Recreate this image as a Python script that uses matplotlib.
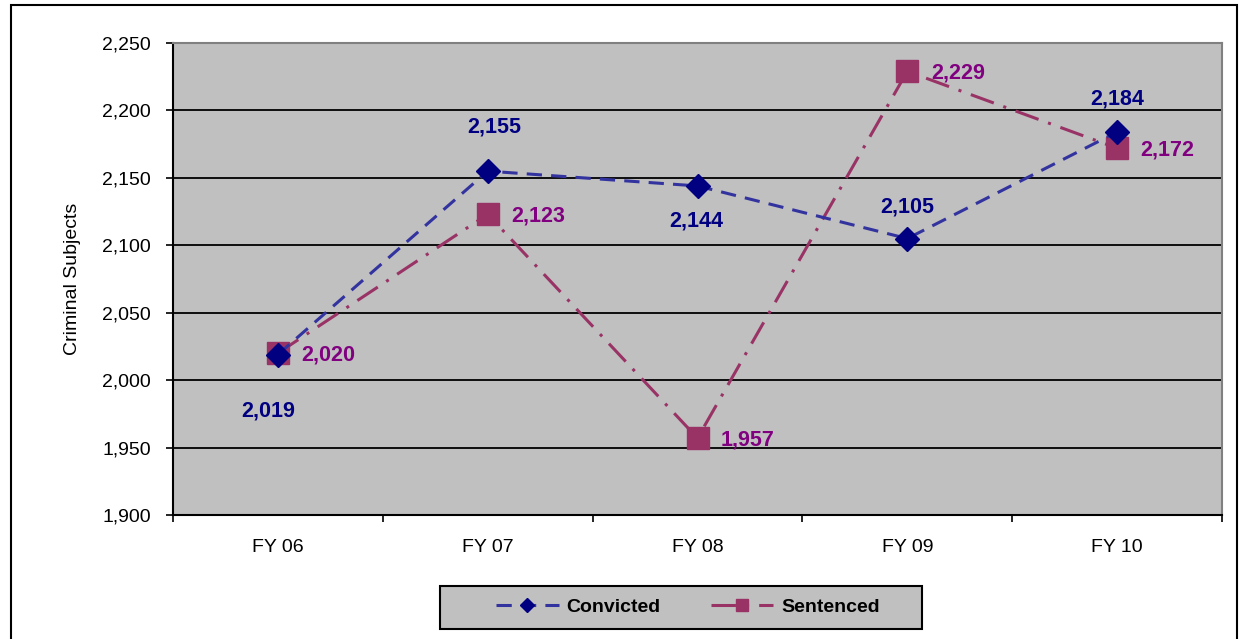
import matplotlib
matplotlib.use("Agg")
import matplotlib.pyplot as plt
from matplotlib.patches import Rectangle
from matplotlib.ticker import FuncFormatter, FixedLocator

plt.rcParams['font.family'] = ['Liberation Sans', 'DejaVu Sans']

years = ["FY 06", "FY 07", "FY 08", "FY 09", "FY 10"]
convicted = [2019, 2155, 2144, 2105, 2184]
sentenced = [2020, 2123, 1957, 2229, 2172]

# label offsets (points) for the Convicted values
conv_offsets = [(-7, -41), (5, 32), (-1, -25), (0, 23), (0, 24)]

W, H = 1246, 639
fig = plt.figure(figsize=(W / 100, H / 100), dpi=100)
fig.patch.set_facecolor("white")

# outer chart border
fig.add_artist(Rectangle((11 / W, -0.01), 1226 / W, 1 - 5 / H + 0.01,
                         transform=fig.transFigure, fill=False,
                         edgecolor="black", linewidth=1.5))

ax = fig.add_axes([173 / W, 1 - 515 / H, 1049 / W, 472 / H])
ax.set_facecolor("#C0C0C0")

x = list(range(len(years)))
ax.plot(x, convicted, linestyle=(0, (5, 3)), color="#3333A0", linewidth=2.2,
        marker="D", markersize=12, markerfacecolor="#000080",
        markeredgecolor="#000080", label="Convicted", zorder=4)
ax.plot(x, sentenced, linestyle=(0, (8, 3.3, 1, 3.3)), color="#993366",
        linewidth=2.2, marker="s", markersize=15.5, markerfacecolor="#993366",
        markeredgecolor="#993366", label="Sentenced", zorder=3)

for xi, v, off in zip(x, convicted, conv_offsets):
    ax.annotate(f"{v:,}", (xi, v), xytext=off, textcoords="offset points",
                ha="center", va="center", fontsize=15.5, fontweight="bold",
                color="#000080", zorder=6)
for xi, v in zip(x, sentenced):
    ax.annotate(f"{v:,}", (xi, v), xytext=(17, -1), textcoords="offset points",
                ha="left", va="center", fontsize=15.5, fontweight="bold",
                color="#800080", zorder=6)

ax.set_xlim(-0.5, len(years) - 0.5)
ax.set_ylim(1900, 2250)
ax.set_yticks(range(1900, 2251, 50))
ax.yaxis.set_major_formatter(FuncFormatter(lambda v, p: f"{int(v):,}"))
ax.grid(axis="y", color="black", linewidth=1.3, zorder=1)
ax.set_axisbelow(True)

ax.set_xticks(x)
ax.set_xticklabels(years)
ax.xaxis.set_minor_locator(FixedLocator([i - 0.5 for i in range(len(years) + 1)]))
ax.tick_params(axis="x", which="major", length=0, pad=17, labelsize=14)
ax.tick_params(axis="x", which="minor", length=5, width=1.2, direction="out")
ax.tick_params(axis="y", length=5, width=1.2, labelsize=14, pad=11)

for s in ["left", "bottom"]:
    ax.spines[s].set_color("black")
    ax.spines[s].set_linewidth(1.5)
for s in ["top", "right"]:
    ax.spines[s].set_color("#808080")
    ax.spines[s].set_linewidth(1.5)

ax.set_ylabel("Criminal Subjects", fontsize=14)
ax.yaxis.set_label_coords(-0.088, 0.5)

# legend box and entries
fig.add_artist(Rectangle((440 / W, 1 - 629 / H), 482 / W, 43 / H,
                         transform=fig.transFigure, facecolor="#C0C0C0",
                         edgecolor="black", linewidth=1.5, zorder=5))
leg = fig.legend(loc="center", bbox_to_anchor=(688 / W, 1 - 607 / H), ncol=2,
                 frameon=False, prop={"weight": "bold", "size": 14},
                 handlelength=3.2, columnspacing=2.6, borderpad=0.2,
                 handletextpad=0.4, markerscale=0.6)
leg.set_zorder(6)

fig.savefig("out.png", dpi=100)
